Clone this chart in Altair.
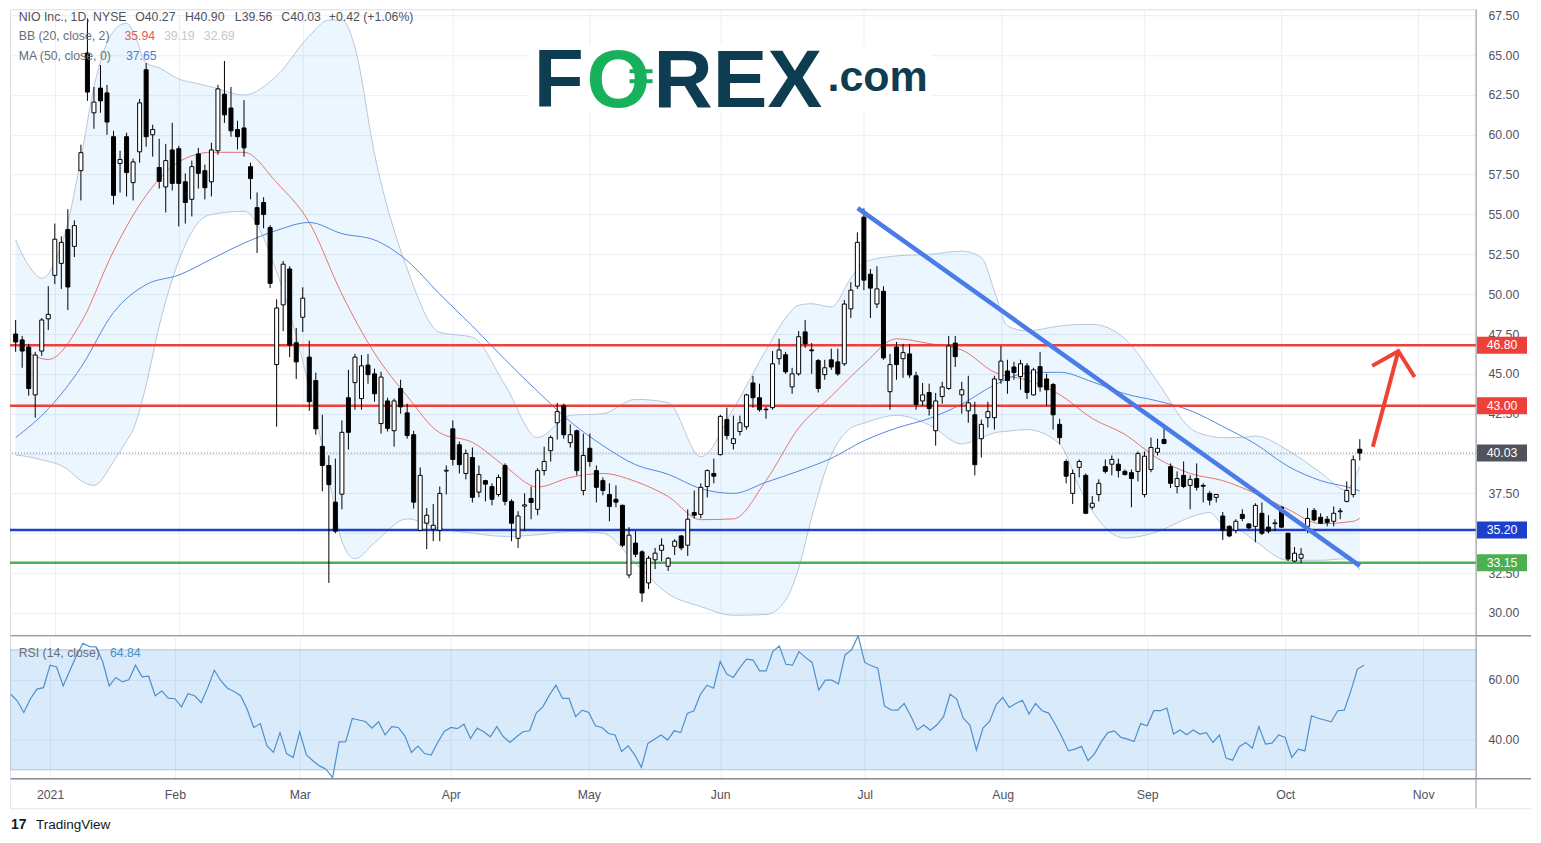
import altair as alt
import pandas as pd

FONT = "Liberation Sans"

# ---------------- data ----------------
# trading-day index 0 = 23 Dec 2020 ... 206 = 19 Oct 2021
opens = [47.50,47.13,46.68,43.68,46.43,48.45,51.18,51.93,54.05,53.00,
57.75,65.13,61.38,62.93,62.63,59.88,58.20,59.88,57.00,58.93,
64.08,60.00,57.95,56.73,59.05,59.13,57.05,55.95,58.80,57.75,
57.05,59.00,62.55,61.68,60.33,60.43,58.00,55.43,55.75,54.18,
45.58,49.33,51.58,46.95,48.55,46.05,44.58,40.45,39.25,36.95,
37.45,43.50,44.45,43.45,45.55,45.00,41.88,43.30,41.43,44.08,
42.55,41.18,35.18,35.63,35.25,35.18,38.90,41.55,40.55,38.75,
39.75,37.58,38.30,37.93,37.43,39.25,37.00,34.68,36.70,37.18,
36.50,38.93,40.18,41.93,43.00,40.68,41.43,37.68,40.33,38.93,
38.30,37.43,37.13,36.75,32.38,34.38,33.83,31.88,33.33,33.93,
32.93,34.18,34.83,34.25,36.30,36.18,37.93,38.75,39.93,42.13,
40.63,41.38,41.68,44.43,43.50,42.78,42.88,45.95,46.20,44.18,
45.00,47.63,46.50,45.83,44.95,45.88,45.75,45.63,49.08,50.50,
54.83,51.25,49.38,50.18,43.88,46.68,45.95,46.25,44.88,43.30,
43.83,41.43,43.58,44.08,46.93,43.68,42.68,42.43,40.93,42.25,
42.25,44.63,45.18,45.43,44.83,45.50,43.68,45.45,44.68,44.33,
41.83,39.50,37.50,39.13,38.63,36.63,37.43,39.18,39.33,39.33,
38.88,38.80,38.88,37.43,39.00,40.08,40.88,39.18,37.93,38.63,
38.00,38.43,38.00,37.50,37.25,36.08,35.43,35.18,36.18,35.58,
35.43,36.25,35.38,35.60,36.63,35.00,33.25,33.43,35.43,36.43,
36.00,35.88,35.75,36.35,37.00,37.43,40.27]

highs = [48.38,47.38,46.88,46.38,48.50,50.50,54.43,53.63,55.33,54.63,
59.38,67.30,63.00,64.38,63.13,60.25,59.00,60.13,58.50,62.25,
64.50,60.63,59.75,59.43,60.75,59.30,57.58,58.38,59.18,58.13,
59.50,63.13,64.63,63.00,60.88,62.18,58.25,56.38,56.08,54.33,
49.68,52.08,51.75,47.88,50.43,47.08,45.08,42.43,39.88,39.68,
42.08,45.25,46.25,46.18,46.25,45.33,45.13,43.50,43.45,44.63,
43.13,41.43,39.13,36.58,36.83,37.93,39.25,42.08,40.75,40.25,
40.38,39.25,38.35,38.13,38.68,39.38,37.13,36.38,37.50,37.93,
39.08,40.43,41.13,43.18,43.13,41.83,41.50,41.25,41.25,39.25,
38.50,38.13,38.00,36.80,35.38,35.13,33.93,33.58,34.08,34.68,
33.50,34.63,34.88,36.50,37.68,38.13,39.00,39.68,42.43,42.88,
42.38,42.38,43.75,44.88,44.38,42.93,46.43,47.20,46.38,45.38,
47.68,48.38,46.93,45.93,45.88,46.58,46.58,49.63,50.75,53.88,
55.38,51.58,51.75,50.50,46.25,47.00,46.88,46.88,45.13,44.43,
44.38,43.80,44.50,47.38,47.38,44.50,44.88,43.25,42.13,43.25,
44.88,46.75,45.88,45.75,45.88,45.68,45.38,46.38,45.00,44.43,
42.18,39.63,39.00,39.63,38.75,37.33,38.38,39.63,39.88,39.68,
39.00,39.00,40.13,40.13,41.00,40.93,41.83,39.38,38.88,39.50,
38.63,39.38,38.13,37.63,37.43,36.33,35.50,35.88,36.50,35.63,
36.88,36.93,36.13,35.88,36.68,35.00,34.13,34.08,36.58,36.58,
36.25,36.08,36.68,36.58,38.25,39.88,40.90]

lows = [46.38,45.38,43.63,42.25,46.13,47.75,50.63,50.33,49.00,52.33,
55.88,62.13,60.38,61.38,60.00,55.63,56.38,56.13,55.88,58.25,
59.25,58.63,56.63,55.13,56.50,54.25,54.43,54.88,56.63,55.95,
56.13,58.75,60.75,59.88,59.08,58.63,55.95,52.58,54.13,50.38,
41.68,47.68,46.05,44.68,47.63,42.68,41.18,37.63,31.88,35.00,
36.50,40.25,42.75,42.75,44.38,43.25,41.25,41.38,40.43,42.50,
40.93,36.55,35.13,34.00,34.50,34.50,37.43,39.25,38.75,38.38,
36.93,37.25,37.00,36.75,37.30,36.75,34.50,34.08,35.13,35.88,
36.13,38.63,39.50,40.88,40.93,40.38,38.63,37.38,39.18,36.93,
37.38,35.75,36.63,34.13,32.18,33.50,30.68,31.50,32.75,33.25,
32.63,33.63,33.93,33.58,35.93,35.93,37.25,38.13,39.88,40.88,
40.25,41.13,41.50,42.88,42.63,42.18,42.75,45.58,45.00,43.75,
44.88,46.63,45.00,43.83,44.63,45.25,44.88,45.50,48.50,50.33,
50.25,48.50,49.13,45.88,42.75,44.63,44.75,44.75,42.75,43.00,
42.38,40.50,43.13,44.00,45.43,42.50,41.93,38.63,39.75,41.63,
41.50,44.38,43.75,44.63,44.00,43.43,43.63,43.88,43.00,41.50,
40.58,38.13,36.83,38.50,36.20,36.50,37.00,38.75,38.63,38.50,
38.63,36.63,38.25,37.25,38.83,39.88,40.58,37.83,37.50,37.83,
36.50,37.68,36.93,36.75,36.93,34.58,34.75,35.00,35.75,35.25,
34.43,34.88,35.00,35.13,35.33,33.25,33.18,33.13,35.00,35.75,
35.58,35.43,35.43,35.88,36.93,37.25,39.56]

closes = [47.00,46.43,44.08,46.18,48.38,48.73,53.45,53.25,50.45,54.30,
58.88,62.68,62.05,62.13,60.80,56.20,58.45,57.63,58.30,62.00,
59.88,60.33,57.08,58.38,56.95,56.95,55.75,58.00,57.58,56.68,
59.05,62.88,61.25,60.25,59.88,59.18,57.25,54.38,55.00,50.68,
49.13,51.88,46.80,45.75,49.75,43.25,41.55,39.25,38.05,35.13,
41.33,41.33,46.05,45.50,44.95,43.75,44.80,41.58,43.30,42.93,
41.13,36.95,38.63,36.13,35.50,37.50,38.95,39.63,39.30,40.00,
37.25,38.68,38.08,37.13,38.50,37.00,35.63,36.08,36.78,36.93,
38.93,39.50,41.00,42.63,41.18,41.18,38.93,39.88,39.50,37.88,
37.68,36.68,36.95,34.25,34.88,33.68,31.25,33.43,33.75,34.25,
33.43,34.50,34.08,35.88,36.13,37.88,38.93,38.58,42.33,41.13,
40.93,41.93,43.68,43.50,42.75,42.75,45.63,46.50,45.13,45.00,
47.33,46.88,46.45,44.08,45.38,45.43,45.00,49.38,50.25,53.25,
50.88,50.38,50.33,46.00,45.58,45.58,46.33,44.93,43.08,43.68,
42.83,43.30,44.18,46.75,46.08,44.00,43.18,39.30,41.83,42.63,
44.68,45.80,44.58,45.08,45.63,43.83,45.25,44.18,44.00,42.43,
41.00,38.58,38.75,39.50,36.25,36.88,38.13,38.88,39.63,38.93,
38.68,38.43,40.00,39.83,40.38,40.33,40.63,38.13,38.43,37.93,
38.38,37.88,37.95,37.08,37.43,35.18,34.83,35.75,35.93,35.33,
36.75,35.00,35.13,35.65,35.38,33.38,33.75,33.68,35.93,35.83,
35.63,35.68,36.25,36.40,37.68,39.61,40.03]

rsi_vals = [55.2,53.0,49.1,53.6,56.9,57.4,64.9,64.3,58.0,63.0,
68.0,72.2,71.1,71.0,66.1,58.0,60.8,59.3,60.0,64.9,
61.0,61.2,54.7,56.3,53.9,53.7,51.0,55.4,54.7,52.4,
57.4,63.2,59.7,57.2,56.1,54.7,50.2,44.1,45.4,38.0,
35.8,42.4,35.4,34.1,42.7,35.0,33.0,31.3,30.2,27.4,
39.3,39.4,47.1,46.6,46.1,43.9,46.0,41.6,44.4,44.1,
41.3,35.8,37.9,35.4,34.9,39.1,42.8,44.1,43.7,45.2,
40.4,43.9,42.7,41.0,44.4,41.0,39.1,41.0,42.7,43.0,
48.9,51.0,54.9,58.2,53.8,53.8,47.7,49.9,49.1,44.7,
44.1,42.1,41.6,36.1,38.0,35.0,30.8,38.8,40.2,41.6,
39.9,43.0,42.4,48.8,49.7,55.2,58.2,57.2,66.1,61.9,
60.8,64.1,66.9,66.6,63.0,63.0,69.4,71.3,65.2,64.9,
69.4,67.4,65.8,56.6,59.9,59.9,58.6,68.3,70.0,74.7,
65.8,64.7,63.9,51.3,50.0,49.9,52.1,48.0,43.3,44.9,
43.2,45.0,47.7,55.2,53.6,47.2,44.9,36.6,43.9,46.1,
51.7,54.1,50.8,52.1,53.2,48.6,52.1,49.7,48.9,45.2,
41.0,36.3,36.9,37.8,33.0,35.4,39.3,42.4,43.0,40.8,
40.2,39.4,45.4,44.7,49.7,49.7,50.6,41.9,43.3,41.7,
43.3,41.9,42.4,39.1,41.6,33.9,33.2,37.7,39.1,37.2,
44.4,38.6,38.9,41.6,40.8,34.1,36.9,36.3,48.0,47.2,
46.6,46.0,49.7,49.9,56.3,63.6,64.84]

# Bollinger band edges, read at these candle indices
bb_idx = [0,2,4,6,8,10,12,15,17,18,20,22,25,28,30,35,40,45,48,50,52,55,60,65,70,75,
          80,85,90,95,100,105,110,115,118,120,122,125,128,130,135,140,145,148,150,152,
          155,160,163,165,170,175,180,183,185,188,190,195,200,204,205,206]
bb_upper = [53.4,51.8,51.0,52.0,54.5,58.5,63.0,66.5,67.0,66.5,64.5,64.2,63.5,63.2,63.0,62.5,
            63.7,66.2,67.2,67.2,65.5,58.8,51.6,47.6,47.3,44.3,41.0,42.4,42.5,43.4,43.2,39.8,
            42.8,46.5,48.5,49.3,49.4,49.2,51.0,52.0,52.4,52.5,52.7,52.3,50.2,48.0,47.7,48.0,
            48.1,48.1,47.2,44.5,41.6,41.1,41.0,41.0,41.1,40.2,38.8,37.7,38.3,39.19]
bb_lower = [39.9,39.8,39.6,39.4,39.0,38.3,38.0,39.5,40.8,41.5,44.3,48.0,52.1,54.5,55.0,55.2,
            51.4,44.1,38.5,34.5,33.4,34.4,35.9,35.3,35.0,34.8,34.9,35.1,35.0,33.1,31.2,30.4,
            29.85,29.9,30.8,32.8,36.0,39.9,41.6,41.9,42.4,41.8,40.6,41.0,41.3,41.4,41.5,40.6,
            37.9,36.4,34.7,35.1,36.0,36.3,35.5,35.1,34.5,33.3,33.3,33.4,33.2,32.69]

line_idx = [0,5,10,15,20,25,30,35,40,45,50,55,60,65,70,75,80,85,90,95,100,105,110,115,
            120,125,130,135,140,145,150,155,160,165,170,175,180,185,190,195,200,205,206]
bb_basis = [46.9,45.9,48.2,52.7,56.2,58.3,58.9,58.9,57.0,54.5,50.0,46.3,43.6,41.3,40.7,39.2,
            37.9,38.5,38.75,38.25,37.3,35.85,35.9,38.3,41.6,43.6,45.6,47.2,46.9,46.5,45.1,
            44.6,43.7,42.2,41.2,39.7,38.75,38.3,37.5,36.5,35.6,35.75,35.94]
ma50 = [41.0,42.8,45.4,48.85,50.6,51.2,52.2,53.2,54.0,54.5,53.8,53.4,52.1,50.0,48.0,45.9,
        43.9,42.0,40.5,39.3,38.7,37.8,37.5,38.2,38.9,39.7,40.8,41.6,42.2,43.1,44.3,45.05,
        45.1,44.5,43.75,43.3,42.7,41.7,40.6,39.2,38.3,37.8,37.65]

month_idx = [6, 25, 44, 67, 88, 108, 130, 151, 173, 194, 215]
month_labels = ["2021", "Feb", "Mar", "Apr", "May", "Jun", "Jul", "Aug", "Sep", "Oct", "Nov"]
price_ticks = [30.0, 32.5, 35.0, 37.5, 40.0, 42.5, 45.0, 47.5, 50.0, 52.5, 55.0, 57.5,
               60.0, 62.5, 65.0, 67.5]
hidden_price_labels = [35.0, 40.0]   # fully covered by the value tags in the reference
rsi_ticks = [40, 60]

levels = [46.80, 43.00, 35.20, 33.15]
level_colors = ["#ee3f38", "#ee3f38", "#1c3fcc", "#4caf50"]

# drawn annotations (candle index, price)
trend_i = [129.05, 206.0]
trend_p = [55.4, 32.95]
arrow_shaft_i = [208.0, 211.9]
arrow_shaft_p = [40.42, 46.42]
arrow_head_i = [207.9, 211.9, 214.4]
arrow_head_p = [45.5, 46.42, 44.8]

# ---------------- layout ----------------
W, H1, H2 = 1467, 627, 143
GRID = "#eceef2"
LABEL = "#50535e"
XS = alt.Scale(domain=[-0.1, 223.05], nice=False, zero=False)
PS = alt.Scale(domain=[28.56, 67.876], nice=False, zero=False)
RS = alt.Scale(domain=[27.0, 74.67], nice=False, zero=False)

x_axis_p = alt.Axis(values=month_idx, labels=False, ticks=False, tickSize=0, domain=False,
                    grid=True, gridColor=GRID, title=None)
hide_expr = " || ".join(f"datum.value == {v}" for v in hidden_price_labels)
y_axis_p = alt.Axis(orient="right", values=price_ticks, grid=True, gridColor=GRID,
                    labelExpr=f"({hide_expr}) ? '' : format(datum.value, '.2f')",
                    domain=False, ticks=False, tickSize=0, labelPadding=12, labelFont=FONT,
                    labelFontSize=12.3, labelColor=LABEL, labelOverlap=False, title=None)
label_expr = "".join(f"datum.value == {m} ? '{t}' : " for m, t in zip(month_idx, month_labels)) + "''"
x_axis_r = alt.Axis(values=month_idx, labelExpr=label_expr, grid=True, gridColor=GRID, domain=False,
                    ticks=False, tickSize=0, labelPadding=10, labelFont=FONT, labelFontSize=12.3,
                    labelColor=LABEL, labelFlush=False, labelOverlap=False, title=None)
y_axis_r = alt.Axis(orient="right", values=rsi_ticks, format=".2f", grid=True, gridColor=GRID,
                    domain=False, ticks=False, tickSize=0, labelPadding=12, labelFont=FONT,
                    labelFontSize=12.3, labelColor=LABEL, title=None)


def PX(f):
    return alt.X(f, type="quantitative", scale=XS, axis=x_axis_p)


def PY(f):
    return alt.Y(f, type="quantitative", scale=PS, axis=y_axis_p)


def RX(f):
    return alt.X(f, type="quantitative", scale=XS, axis=x_axis_r)


def RY(f):
    return alt.Y(f, type="quantitative", scale=RS, axis=y_axis_r)


ONE = pd.DataFrame({"a": [0]})


def txt(s, x, y, color, size=12.3, weight="normal", align="left", baseline="middle"):
    return alt.Chart(ONE).mark_text(text=s, font=FONT, fontSize=size, fontWeight=weight,
                                    color=color, align=align, baseline=baseline).encode(
        x=alt.value(x), y=alt.value(y))


def seg(x1, x2, y1, y2, color, width=1.0):
    return alt.Chart(ONE).mark_rule(color=color, strokeWidth=width).encode(
        x=alt.value(x1), x2=alt.value(x2), y=alt.value(y1), y2=alt.value(y2))


# ---------------- price panel ----------------
n = len(closes)
idx = list(range(n))
cdf = pd.DataFrame({"i": idx, "open": opens, "high": highs, "low": lows, "close": closes})
cdf["fillc"] = ["#ffffff" if c >= o else "#000000" for o, c in zip(opens, closes)]

bbdf = pd.DataFrame({"i": bb_idx, "up": bb_upper, "lo": bb_lower})
basisdf = pd.DataFrame({"i": line_idx, "v": bb_basis})
madf = pd.DataFrame({"i": line_idx, "v": ma50})
lvdf = pd.DataFrame({"level": levels, "color": level_colors})
tagdf = pd.DataFrame({"level": levels + [closes[-1]], "color": level_colors + ["#50535e"]})
trenddf = pd.DataFrame({"i": trend_i, "p": trend_p})
shaftdf = pd.DataFrame({"i": arrow_shaft_i, "p": arrow_shaft_p, "k": [0, 1]})
headdf = pd.DataFrame({"i": arrow_head_i, "p": arrow_head_p, "k": [0, 1, 2]})

bb_area = alt.Chart(bbdf).mark_area(color="#2196f3", opacity=0.09, interpolate="monotone",
                                    clip=True).encode(x=PX("i"), y=PY("up"), y2="lo")
bb_up = alt.Chart(bbdf).mark_line(color="#b7c7da", strokeWidth=1, interpolate="monotone",
                                  clip=True).encode(x=PX("i"), y=PY("up"))
bb_lo = alt.Chart(bbdf).mark_line(color="#b7c7da", strokeWidth=1, interpolate="monotone",
                                  clip=True).encode(x=PX("i"), y=PY("lo"))
basis_line = alt.Chart(basisdf).mark_line(color="#e8736f", strokeWidth=1, interpolate="monotone",
                                          clip=True).encode(x=PX("i"), y=PY("v"))
ma_line = alt.Chart(madf).mark_line(color="#5588dc", strokeWidth=1, interpolate="monotone",
                                    clip=True).encode(x=PX("i"), y=PY("v"))
level_rules = alt.Chart(lvdf).mark_rule(strokeWidth=2.5).encode(
    y=PY("level"), color=alt.Color("color:N", scale=None))
last_rule = alt.Chart(pd.DataFrame({"p": [closes[-1]]})).mark_rule(
    color="#7d808a", strokeWidth=1, strokeDash=[1, 2]).encode(y=PY("p"))
wicks = alt.Chart(cdf).mark_rule(color="#000000", strokeWidth=1, clip=True).encode(
    x=PX("i"), y=PY("low"), y2="high")
bodies = alt.Chart(cdf).mark_bar(size=4, stroke="#000000", strokeWidth=1, clip=True).encode(
    x=PX("i"), y=PY("open"), y2="close", fill=alt.Fill("fillc:N", scale=None))
trend = alt.Chart(trenddf).mark_line(color="#4a7be6", strokeWidth=4.5).encode(x=PX("i"), y=PY("p"))
shaft = alt.Chart(shaftdf).mark_line(color="#ef4136", strokeWidth=4).encode(
    x=PX("i"), y=PY("p"), order="k:O")
head = alt.Chart(headdf).mark_line(color="#ef4136", strokeWidth=4).encode(
    x=PX("i"), y=PY("p"), order="k:O")
tags = alt.Chart(tagdf).mark_point(shape="M-1,-0.34H1V0.34H-1Z", size=2500, filled=True,
                                   opacity=1, strokeWidth=0).encode(
    x=alt.value(1493), y=PY("level"), color=alt.Color("color:N", scale=None))
tag_text = alt.Chart(tagdf).mark_text(color="#ffffff", font=FONT, fontSize=12.3, align="center",
                                      baseline="middle").encode(
    x=alt.value(1493), y=PY("level"), text=alt.Text("level:Q", format=".2f"))

chg = closes[-1] - closes[-2]
pct = chg / closes[-2] * 100
header = [
    txt("NIO Inc., 1D, NYSE", 8.7, 8, "#4f525c"),
    txt(f"O{opens[-1]:.2f}", 125.3, 8, "#4f525c"),
    txt(f"H{highs[-1]:.2f}", 175, 8, "#4f525c"),
    txt(f"L{lows[-1]:.2f}", 225, 8, "#4f525c"),
    txt(f"C{closes[-1]:.2f}", 271.5, 8, "#4f525c"),
    txt(f"{chg:+.2f} ({pct:+.2f}%)", 319, 8, "#4f525c"),
    txt("BB (20, close, 2)", 8.7, 27, "#6a6d78"),
    txt(f"{bb_basis[-1]:.2f}", 114.5, 27, "#e25c58"),
    txt(f"{bb_upper[-1]:.2f}", 154, 27, "#c4c7cf"),
    txt(f"{bb_lower[-1]:.2f}", 194, 27, "#c4c7cf"),
    txt("MA (50, close, 0)", 8.7, 46.3, "#6a6d78"),
    txt(f"{ma50[-1]:.2f}", 116, 46.3, "#4b7fd6"),
]

logo_bg = alt.Chart(ONE).mark_rect(color="#ffffff").encode(
    x=alt.value(519), x2=alt.value(923), y=alt.value(36), y2=alt.value(103))
logo = [
    txt("F", 524, 98, "#0e3c51", size=82, weight="bold", baseline="alphabetic"),
    txt("O", 577, 98, "#17b15b", size=82, weight="bold", baseline="alphabetic"),
    seg(620, 643, 62, 62, "#17b15b", 4),
    seg(620, 643, 72, 72, "#17b15b", 4),
    txt("REX", 644, 98, "#0e3c51", size=82, weight="bold", baseline="alphabetic"),
    txt(".com", 818, 82, "#0e3c51", size=43, weight="bold", baseline="alphabetic"),
]

price_borders = [
    seg(0.5, 1522, H1, H1, "#8c8f98", 1.5),
    seg(W, W, 0.5, H1, "#9598a1", 1),
]

price = alt.layer(
    bb_area, bb_up, bb_lo, basis_line, ma_line, level_rules, last_rule, wicks, bodies,
    trend, shaft, head, tags, tag_text, *header, logo_bg, *logo, *price_borders
).properties(width=W, height=H1)

# ---------------- RSI panel ----------------
rdf = pd.DataFrame({"i": idx, "rsi": rsi_vals})
band = alt.Chart(pd.DataFrame({"top": [70], "bot": [30]})).mark_rect(
    color="#1e88e5", opacity=0.17).encode(x=alt.value(0), x2=alt.value(W), y=RY("top"), y2="bot")
band_lines = alt.Chart(pd.DataFrame({"v": [70, 30]})).mark_rule(color="#a6c7e6", strokeWidth=1).encode(
    y=RY("v"))
rsi_line = alt.Chart(rdf).mark_line(color="#4e8fcc", strokeWidth=1.2, clip=True).encode(
    x=RX("i"), y=RY("rsi"))
rsi_texts = [
    txt("RSI (14, close)", 8.7, 17, "#6a6d78"),
    txt(f"{rsi_vals[-1]:.2f}", 100, 17, "#4e8fcc"),
]
rsi_borders = [
    seg(0.5, 1522, H2, H2, "#8c8f98", 1.5),
    seg(W, W, 0, 173, "#9598a1", 1),
    seg(0.5, 1522, 173, 173, "#e3e5ea", 1),
    seg(0.5, 0.5, H2, 173, "#e3e5ea", 1),
]
footer = [
    txt("17", 1, 189, "#131722", size=14, weight="bold"),
    txt("TradingView", 26, 189, "#131722", size=13.5),
]

rsi = alt.layer(band, band_lines, rsi_line, *rsi_texts, *rsi_borders, *footer).properties(
    width=W, height=H2)

chart = alt.vconcat(price, rsi, spacing=0, bounds="flush").properties(padding=0).configure_view(
    stroke=None).configure(font=FONT)

chart.save("out.html", embed_options={"renderer": "svg", "actions": False})
